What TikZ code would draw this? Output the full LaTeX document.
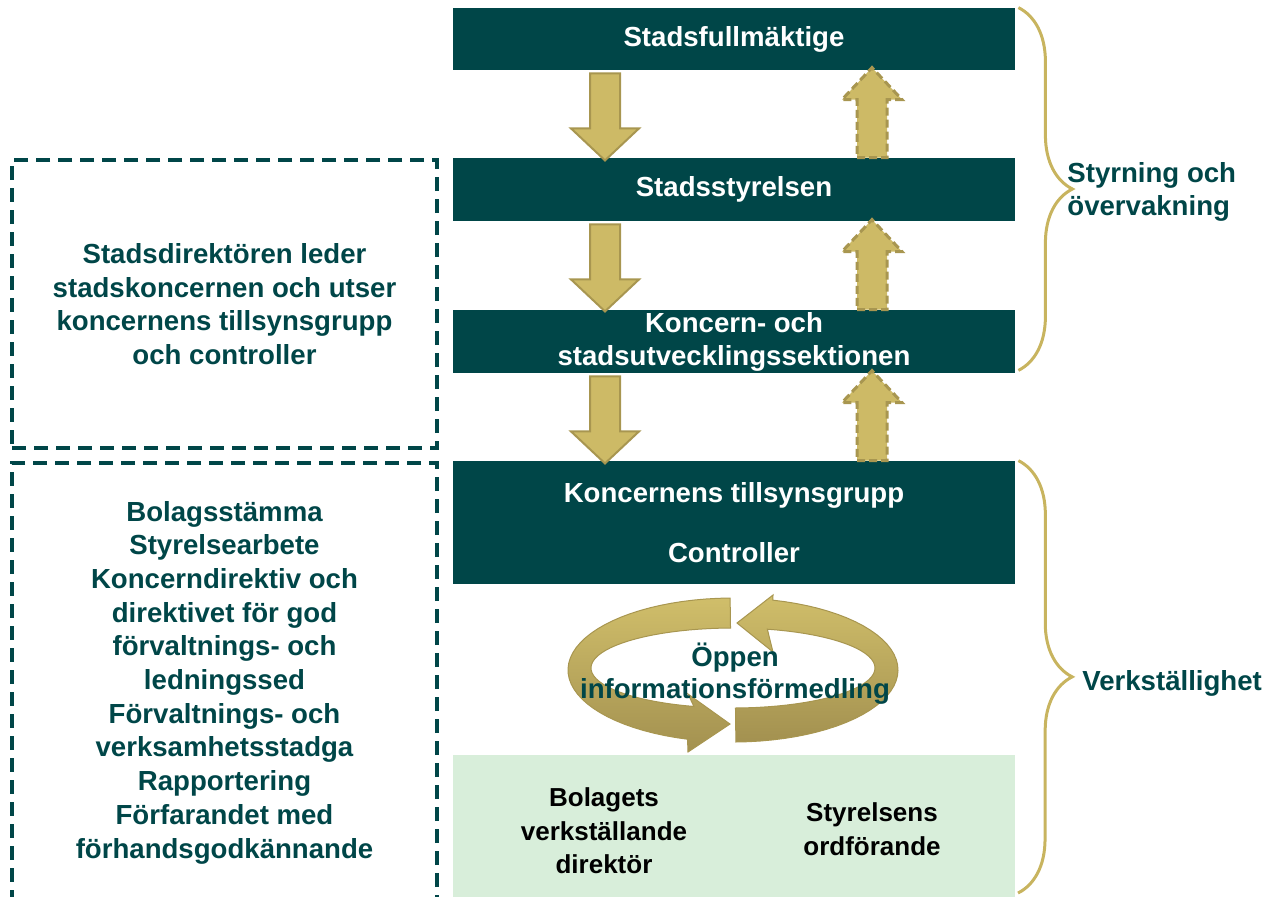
\documentclass[tikz,border=0pt]{standalone}
\usepackage{fontspec}
\setmainfont{Liberation Sans}
\usetikzlibrary{calc,decorations.pathreplacing}

\definecolor{kteal}{RGB}{0,70,72}
\definecolor{kgreen}{RGB}{216,238,218}
\definecolor{arrowgold}{RGB}{205,186,102}
\definecolor{arrowedge}{RGB}{168,150,80}
\definecolor{bracegold}{RGB}{200,180,95}
\definecolor{ringtop}{RGB}{208,190,106}
\definecolor{ringbot}{RGB}{163,145,80}

\begin{document}
\begin{tikzpicture}[x=0.5pt, y=-0.5pt,
  darkbox/.style={fill=kteal, text=white, minimum width=281pt, inner sep=0pt,
    font=\bfseries\fontsize{13.8}{16.5}\selectfont, align=center},
  dashbox/.style={draw=kteal, line width=2pt, dash pattern=on 7pt off 4pt,
    minimum width=212.5pt, inner sep=0pt, text=kteal,
    font=\bfseries\fontsize{13.8}{16.85}\selectfont, align=center},
  tealtext/.style={text=kteal, font=\bfseries\fontsize{13.8}{16.5}\selectfont, inner sep=0pt},
  blacktext/.style={text=black, font=\bfseries\fontsize{13}{16.75}\selectfont, align=center, inner sep=0pt},
  bracestyle/.style={draw=bracegold, line width=1.5pt, decorate, decoration={brace, amplitude=27pt}},
  downblk/.pic={\draw[fill=arrowgold, draw=arrowedge, line width=1pt]
    (-15,0) -- (15,0) -- (15,55) -- (34,55) -- (0,87) -- (-34,55) -- (-15,55) -- cycle;},
  upblk/.pic={\draw[fill=arrowgold, draw=arrowedge, line width=1.5pt, dash pattern=on 4pt off 2pt]
    (-15,0) -- (15,0) -- (15,-58) -- (30,-58) -- (0,-90) -- (-30,-58) -- (-15,-58) -- cycle;}
]
\useasboundingbox (0,0) rectangle (1280,896);
\clip (0,0) rectangle (1280,896);

% Boxes (middle column)
\node[darkbox, minimum height=31pt] (full) at (734,39) {\raisebox{-1.5pt}{Stadsfullmäktige}};
\node[darkbox, minimum height=31.5pt] (styr) at (734,189.5) {\raisebox{-0.5pt}{Stadsstyrelsen}};
\node[darkbox, minimum height=31.5pt] (sekt) at (734,341.5) {Koncern- och\\stadsutvecklingssektionen};
\node[darkbox, minimum height=61.5pt] (tills) at (734,522.5) {Koncernens tillsynsgrupp\\[13.5pt]Controller};
\node[fill=kgreen, minimum width=281pt, minimum height=73pt, inner sep=0pt] (bolag) at (734,828) {};

% Texts in the bottom box
\node[blacktext] (vd) at (604,831) {Bolagets\\verkställande\\direktör};
\node[blacktext] (ordf) at (872,829) {Styrelsens\\ordförande};

% Dashed boxes (left column)
\node[dashbox, minimum height=144pt] (leder) at (224.5,304)
  {Stadsdirektören leder\\stadskoncernen och utser\\koncernens tillsynsgrupp\\och controller};
\node[dashbox, minimum height=219.5pt] (medel) at (224.5,682.5)
  {Bolagsstämma\\Styrelsearbete\\Koncerndirektiv och\\direktivet för god\\förvaltnings- och\\ledningssed\\Förvaltnings- och\\verksamhetsstadga\\Rapportering\\Förfarandet med\\förhandsgodkännande};

% Block arrows down (styrning) and up (rapportering)
\pic at ($(full.south)+(-129,3)$) {downblk};
\pic at ($(styr.south)+(-129,3)$) {downblk};
\pic at ($(sekt.south)+(-129,3)$) {downblk};
\pic at ($(styr.north)+(138,0)$) {upblk};
\pic at ($(sekt.north)+(138,0)$) {upblk};
\pic at ($(tills.north)+(138,0)$) {upblk};

% Ring of two arrows
\path[draw=arrowedge, line width=0.5pt, top color=ringtop, bottom color=ringbot]
  (730,724) -- (688,694)
  -- plot[domain=-254:-91, samples=40] ({733+142*cos(\x)},{668+40*sin(\x)})
  -- plot[domain=91:254, samples=40] ({733+165*cos(-\x)},{670+72*sin(-\x)})
  -- (688,752) -- cycle;
\path[draw=arrowedge, line width=0.5pt, top color=ringtop, bottom color=ringbot]
  (737,623) -- (773,652)
  -- plot[domain=-76:89, samples=40] ({733+142*cos(\x)},{668+40*sin(\x)})
  -- plot[domain=-89:76, samples=40] ({733+165*cos(-\x)},{670+72*sin(-\x)})
  -- (773,595) -- cycle;
\node[tealtext, align=center, font=\bfseries\fontsize{13.8}{16}\selectfont] (oppen) at (735,674)
  {Öppen\\informationsförmedling};

% Braces on the right
\coordinate (vbot) at (1018,893);
\draw[bracestyle] ($(full.north east)+(3,0)$) -- ($(sekt.south east)+(3,-3)$);
\draw[bracestyle] ($(tills.north east)+(3,0)$) -- (vbot);
\node[tealtext, anchor=west, align=left] (styrlab) at (1067,192) {Styrning och\\övervakning};
\node[tealtext, anchor=west] (verklab) at (1082,683) {Verkställighet};

\end{tikzpicture}
\end{document}
